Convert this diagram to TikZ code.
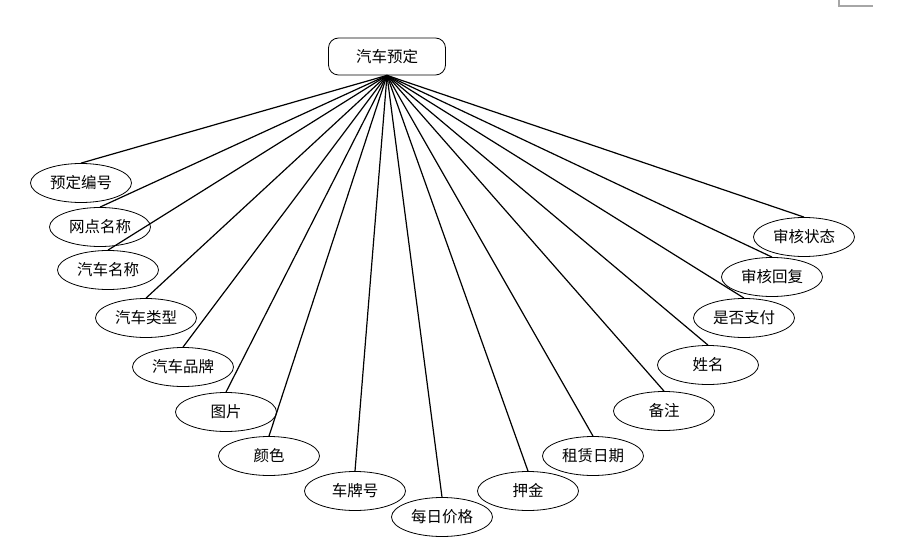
\documentclass[tikz,border=0pt]{standalone}
\usepackage{fontspec}
\setmainfont{Noto Sans CJK SC}
\usetikzlibrary{shapes.geometric}

\begin{document}
\begin{tikzpicture}[x=1pt,y=-1pt,line width=1.2pt,
attr/.style={draw,ellipse,line width=0.8pt,minimum width=101pt,minimum height=39pt,inner sep=0pt,font=\fontsize{15.5}{17}\selectfont},
ent/.style={draw,rectangle,rounded corners=10pt,line width=0.8pt,minimum width=117pt,minimum height=37pt,inner sep=0pt,font=\fontsize{15.5}{17}\selectfont}]
\useasboundingbox (0,0) rectangle (902,548);
\node[ent] (E) at (387,56.5) {汽车预定};
\node[attr] (A1) at (81,183) {预定编号};
\node[attr] (A2) at (100,227) {网点名称};
\node[attr] (A3) at (108,270) {汽车名称};
\node[attr] (A4) at (146,318) {汽车类型};
\node[attr] (A5) at (183,367) {汽车品牌};
\node[attr] (A6) at (226,412) {图片};
\node[attr] (A7) at (269,456) {颜色};
\node[attr] (A8) at (355,491) {车牌号};
\node[attr] (A9) at (442,517) {每日价格};
\node[attr] (A10) at (528,491) {押金};
\node[attr] (A11) at (593,456) {租赁日期};
\node[attr] (A12) at (664,411) {备注};
\node[attr] (A13) at (708,365) {姓名};
\node[attr] (A14) at (744,318) {是否支付};
\node[attr] (A15) at (772,277) {审核回复};
\node[attr] (A16) at (804,237) {审核状态};
\foreach \i in {1,...,16}
  \draw (E.south) -- (A\i.north);
\draw[line width=1.5pt,color=black!35] (839,0)--(839,6)--(873,6);
\end{tikzpicture}
\end{document}
